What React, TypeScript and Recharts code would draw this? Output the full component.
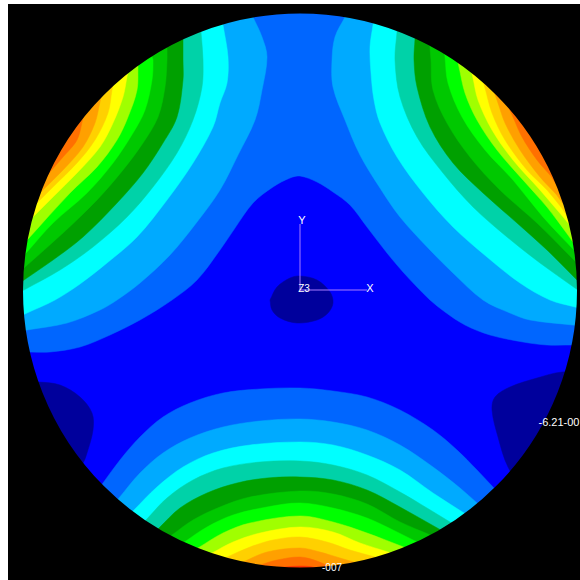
import React from 'react';
import { ScatterChart, Scatter, XAxis, YAxis, LabelList } from 'recharts';

type Pt = [number, number];

// contour colours, low to high
const navy = '#00009c';
const bandColors = [
  '#0066ff', '#00aaff', '#00ffff', '#00d2a8', '#00a000', '#00c800',
  '#00ff00', '#a0ff00', '#ffff00', '#ffd000', '#ffa000', '#ff7000',
];

// whole field
const baseField: Pt[] = [[0, 0], [600, 0], [600, 600], [0, 600]];

// the 0066ff region spans both top lobes
const topBand: Pt[] = [
  [30, 352], [50, 352], [80, 347], [110, 335], [140, 320], [172, 300], [197, 280], [220, 250], [235, 228],
  [253, 203], [273, 187], [290, 178], [300, 176], [317, 182], [333, 192], [350, 205], [367, 227], [387, 253],
  [403, 272], [417, 287], [430, 300], [445, 312], [465, 325], [490, 335], [523, 342], [547, 345], [572, 345],
];

const leftContours: Pt[][] = [
  [[253, 17], [262, 37], [267, 57], [262, 90], [255, 120], [238, 155], [220, 190], [197, 222], [170, 255], [140, 283], [117, 300], [100, 310], [67, 323], [27, 330]],
  [[223, 25], [228, 57], [227, 83], [220, 103], [213, 127], [193, 163], [167, 200], [137, 237], [107, 263], [80, 284], [55, 300], [27, 313]],
  [[201, 32], [203, 60], [202, 87], [193, 120], [177, 153], [153, 187], [127, 217], [93, 247], [60, 270], [24, 290]],
  [[183, 39], [183, 60], [183, 80], [177, 117], [163, 143], [143, 173], [117, 203], [83, 237], [53, 260], [24, 280]],
  [[167, 48], [167, 60], [165, 87], [158, 117], [143, 143], [123, 170], [97, 200], [63, 233], [25, 267]],
  [[152, 57], [153, 60], [152, 80], [145, 110], [133, 133], [113, 163], [87, 193], [53, 223], [27, 252]],
  [[138, 67], [137, 90], [128, 117], [117, 140], [97, 167], [70, 193], [29, 238]],
  [[127, 77], [123, 97], [113, 123], [100, 147], [77, 173], [53, 197], [33, 217]],
  [[112, 90], [108, 113], [95, 140], [77, 163], [53, 187], [37, 203]],
  [[100, 102], [95, 123], [83, 147], [63, 170], [43, 190]],
  [[83, 118], [77, 140], [63, 157], [50, 172]],
];

const rightContours: Pt[][] = [
  [[345, 17], [335, 37], [332, 60], [333, 87], [345, 120], [360, 155], [380, 188], [400, 217], [430, 250], [453, 273], [483, 300], [510, 313], [530, 320], [573, 325]],
  [[373, 25], [370, 47], [371, 73], [374, 100], [380, 123], [397, 157], [423, 193], [453, 227], [487, 257], [520, 283], [550, 300], [575, 307]],
  [[397, 32], [395, 60], [400, 97], [417, 137], [443, 173], [473, 207], [507, 237], [540, 263], [575, 288]],
  [[415, 39], [414, 60], [417, 87], [430, 127], [453, 163], [483, 193], [517, 223], [547, 250], [574, 277]],
  [[430, 48], [431, 60], [433, 90], [447, 123], [470, 157], [500, 190], [537, 223], [574, 260]],
  [[445, 57], [448, 83], [462, 117], [485, 150], [513, 180], [543, 217], [573, 249]],
  [[459, 67], [465, 93], [477, 120], [497, 150], [523, 180], [547, 207], [568, 235]],
  [[473, 78], [478, 100], [492, 130], [513, 160], [540, 190], [564, 218]],
  [[485, 88], [492, 113], [505, 140], [527, 170], [547, 190], [561, 207]],
  [[498, 103], [505, 123], [520, 150], [540, 177], [555, 193]],
  [[513, 117], [522, 137], [537, 160], [550, 175]],
];

const bottomContours: Pt[][] = [
  [[103, 483], [120, 460], [140, 437], [163, 417], [190, 403], [223, 393], [260, 389], [300, 388], [333, 391], [367, 397], [400, 410], [433, 430], [457, 450], [477, 470], [493, 487]],
  [[119, 498], [140, 473], [163, 453], [190, 438], [223, 427], [260, 421], [300, 419], [333, 422], [367, 430], [400, 445], [433, 467], [460, 488], [477, 503]],
  [[133, 511], [157, 487], [183, 467], [213, 453], [250, 445], [300, 442], [333, 445], [367, 455], [400, 470], [433, 493], [464, 513]],
  [[146, 520], [167, 498], [193, 480], [223, 468], [260, 462], [300, 461], [333, 465], [367, 475], [400, 492], [427, 508], [450, 522]],
  [[159, 528], [180, 508], [207, 493], [237, 483], [267, 478], [300, 477], [333, 480], [367, 490], [400, 507], [439, 529]],
  [[172, 535], [193, 520], [220, 507], [250, 497], [300, 491], [333, 494], [367, 504], [400, 522], [428, 534]],
  [[183, 543], [207, 527], [233, 515], [267, 507], [300, 503], [333, 508], [367, 518], [393, 530], [415, 541]],
  [[198, 548], [223, 533], [250, 523], [300, 516], [333, 522], [367, 533], [401, 546]],
  [[212, 553], [233, 542], [260, 533], [300, 527], [333, 532], [360, 543], [388, 552]],
  [[225, 558], [250, 547], [273, 540], [300, 537], [327, 542], [350, 550], [375, 557]],
  [[243, 562], [267, 552], [300, 548], [320, 552], [340, 558], [357, 563]],
  [[260, 565], [277, 560], [300, 557], [317, 561], [330, 567]],
];
const bottomTip: Pt[] = [[270, 568], [285, 567], [300, 566], [313, 567], [322, 570]];

const centrePatch: Pt[] = [
  [270, 300], [277, 287], [290, 278], [300, 276], [317, 280], [330, 292], [333, 303], [328, 313],
  [317, 320], [297, 323], [280, 318], [272, 310], [270, 300],
];
const leftPatch: Pt[] = [
  [20, 382], [38, 382], [60, 385], [80, 397], [92, 413], [93, 430], [87, 453], [83, 463], [70, 480], [20, 480],
];
const rightPatch: Pt[] = [
  [600, 372], [562, 372], [537, 378], [510, 387], [495, 397], [492, 410], [498, 437], [508, 467], [520, 480], [600, 480],
];

const axisY: Pt[] = [[300, 224], [300, 290]];
const axisX: Pt[] = [[300, 290], [367, 290]];
const discCentre: Pt = [300, 290.5];
const DISC_R = 277;

const labels = [
  { x: 302, y: 220, text: 'Y', size: 11 },
  { x: 370, y: 288, text: 'X', size: 11 },
  { x: 304, y: 288, text: 'Z3', size: 10 },
  { x: 559, y: 422, text: '-6.21-00', size: 11 },
  { x: 332, y: 567, text: '-007', size: 10 },
];

const toPoints = (pts: Pt[]) => pts.map(([x, y]) => ({ x, y }));

// run a contour on past both of its ends, out beyond the disc edge
const extend = (c: Pt[]): Pt[] => {
  const a = c[0];
  const b = c[1];
  const y = c[c.length - 1];
  const z = c[c.length - 2];
  return [[2 * a[0] - b[0], 2 * a[1] - b[1]], ...c, [2 * y[0] - z[0], 2 * y[1] - z[1]]];
};

// close a contour through the corners that lie outside the disc
const closeLeft = (c: Pt[]): Pt[] => {
  const e = extend(c);
  return [...e, [0, e[e.length - 1][1]], [0, 0], [e[0][0], 0]];
};
const closeRight = (c: Pt[]): Pt[] => {
  const e = extend(c);
  return [...e, [600, e[e.length - 1][1]], [600, 0], [e[0][0], 0]];
};
const closeBottom = (c: Pt[]): Pt[] => {
  const e = extend(c);
  return [...e, [600, e[e.length - 1][1]], [600, 600], [0, 600], [0, e[0][1]]];
};
const closeTop = (c: Pt[]): Pt[] => [[0, c[0][1]], ...c, [600, c[c.length - 1][1]], [600, 0], [0, 0]];

// d3-style curve: passes through every point, tangents follow the neighbours
const smoothCurve = (ctx: any) => {
  let pts: Pt[] = [];
  const dir = (a: Pt, b: Pt): Pt => {
    const dx = b[0] - a[0];
    const dy = b[1] - a[1];
    const len = Math.hypot(dx, dy) || 1;
    return [dx / len, dy / len];
  };
  return {
    areaStart() {},
    areaEnd() {},
    lineStart() {
      pts = [];
    },
    point(x: number, y: number) {
      pts.push([+x, +y]);
    },
    lineEnd() {
      pts.forEach((p, i) => {
        if (i === 0) {
          ctx.moveTo(p[0], p[1]);
          return;
        }
        const prev = pts[i - 1];
        const d1 = dir(pts[Math.max(i - 2, 0)], p);
        const d2 = dir(prev, pts[Math.min(i + 1, pts.length - 1)]);
        const k = Math.hypot(p[0] - prev[0], p[1] - prev[1]) / 3;
        ctx.bezierCurveTo(prev[0] + d1[0] * k, prev[1] + d1[1] * k, p[0] - d2[0] * k, p[1] - d2[1] * k, p[0], p[1]);
      });
    },
  };
};

const noDot = () => <g />;

const region = (key: string, pts: Pt[], color: string) => (
  <Scatter
    key={key}
    data={toPoints(pts)}
    shape={noDot}
    line={{ fill: color, stroke: color, strokeWidth: 0.5 }}
    lineJointType={smoothCurve as any}
    isAnimationActive={false}
  />
);

const stroke = (key: string, pts: Pt[]) => (
  <Scatter
    key={key}
    data={toPoints(pts)}
    shape={noDot}
    line={{ fill: 'none', stroke: '#a87cff', strokeWidth: 1 }}
    isAnimationActive={false}
  />
);

// black ring hiding everything beyond the disc edge
const DiscMask = (props: any) => (
  <circle cx={props.cx} cy={props.cy} r={DISC_R + 300} fill="none" stroke="#000" strokeWidth={600} />
);

const renderLabel = (props: any) => {
  const item = labels[props.index];
  return (
    <text
      x={props.x + props.width / 2}
      y={props.y + props.height / 2}
      dy="0.35em"
      textAnchor="middle"
      fontFamily="Liberation Sans"
      fontSize={item.size}
      fill="#fff"
    >
      {item.text}
    </text>
  );
};

export default function App() {
  return (
    <div style={{ position: 'absolute', left: 8, top: 4, width: 572, height: 576, background: '#000', overflow: 'hidden' }}>
      <ScatterChart width={572} height={576} margin={{ top: 0, right: 0, bottom: 0, left: 0 }}>
        <XAxis type="number" dataKey="x" domain={[8, 580]} allowDataOverflow hide />
        <YAxis type="number" dataKey="y" domain={[4, 580]} allowDataOverflow reversed hide />
        {region('base', baseField, '#0000ff')}
        {region('patch-c', centrePatch, navy)}
        {region('patch-l', leftPatch, navy)}
        {region('patch-r', rightPatch, navy)}
        {region('top', closeTop(topBand), bandColors[0])}
        {region('bottom0', closeBottom(bottomContours[0]), bandColors[0])}
        {leftContours.map((c, i) => region(`left${i}`, closeLeft(c), bandColors[i + 1]))}
        {rightContours.map((c, i) => region(`right${i}`, closeRight(c), bandColors[i + 1]))}
        {bottomContours.slice(1).map((c, i) => region(`bottom${i + 1}`, closeBottom(c), bandColors[i + 1]))}
        {region('tip', closeBottom(bottomTip), '#ff3000')}
        <Scatter data={toPoints([discCentre])} shape={DiscMask} isAnimationActive={false} />
        {stroke('axis-y', axisY)}
        {stroke('axis-x', axisX)}
        <Scatter data={labels} shape={noDot} isAnimationActive={false}>
          <LabelList dataKey="text" content={renderLabel} />
        </Scatter>
      </ScatterChart>
    </div>
  );
}
